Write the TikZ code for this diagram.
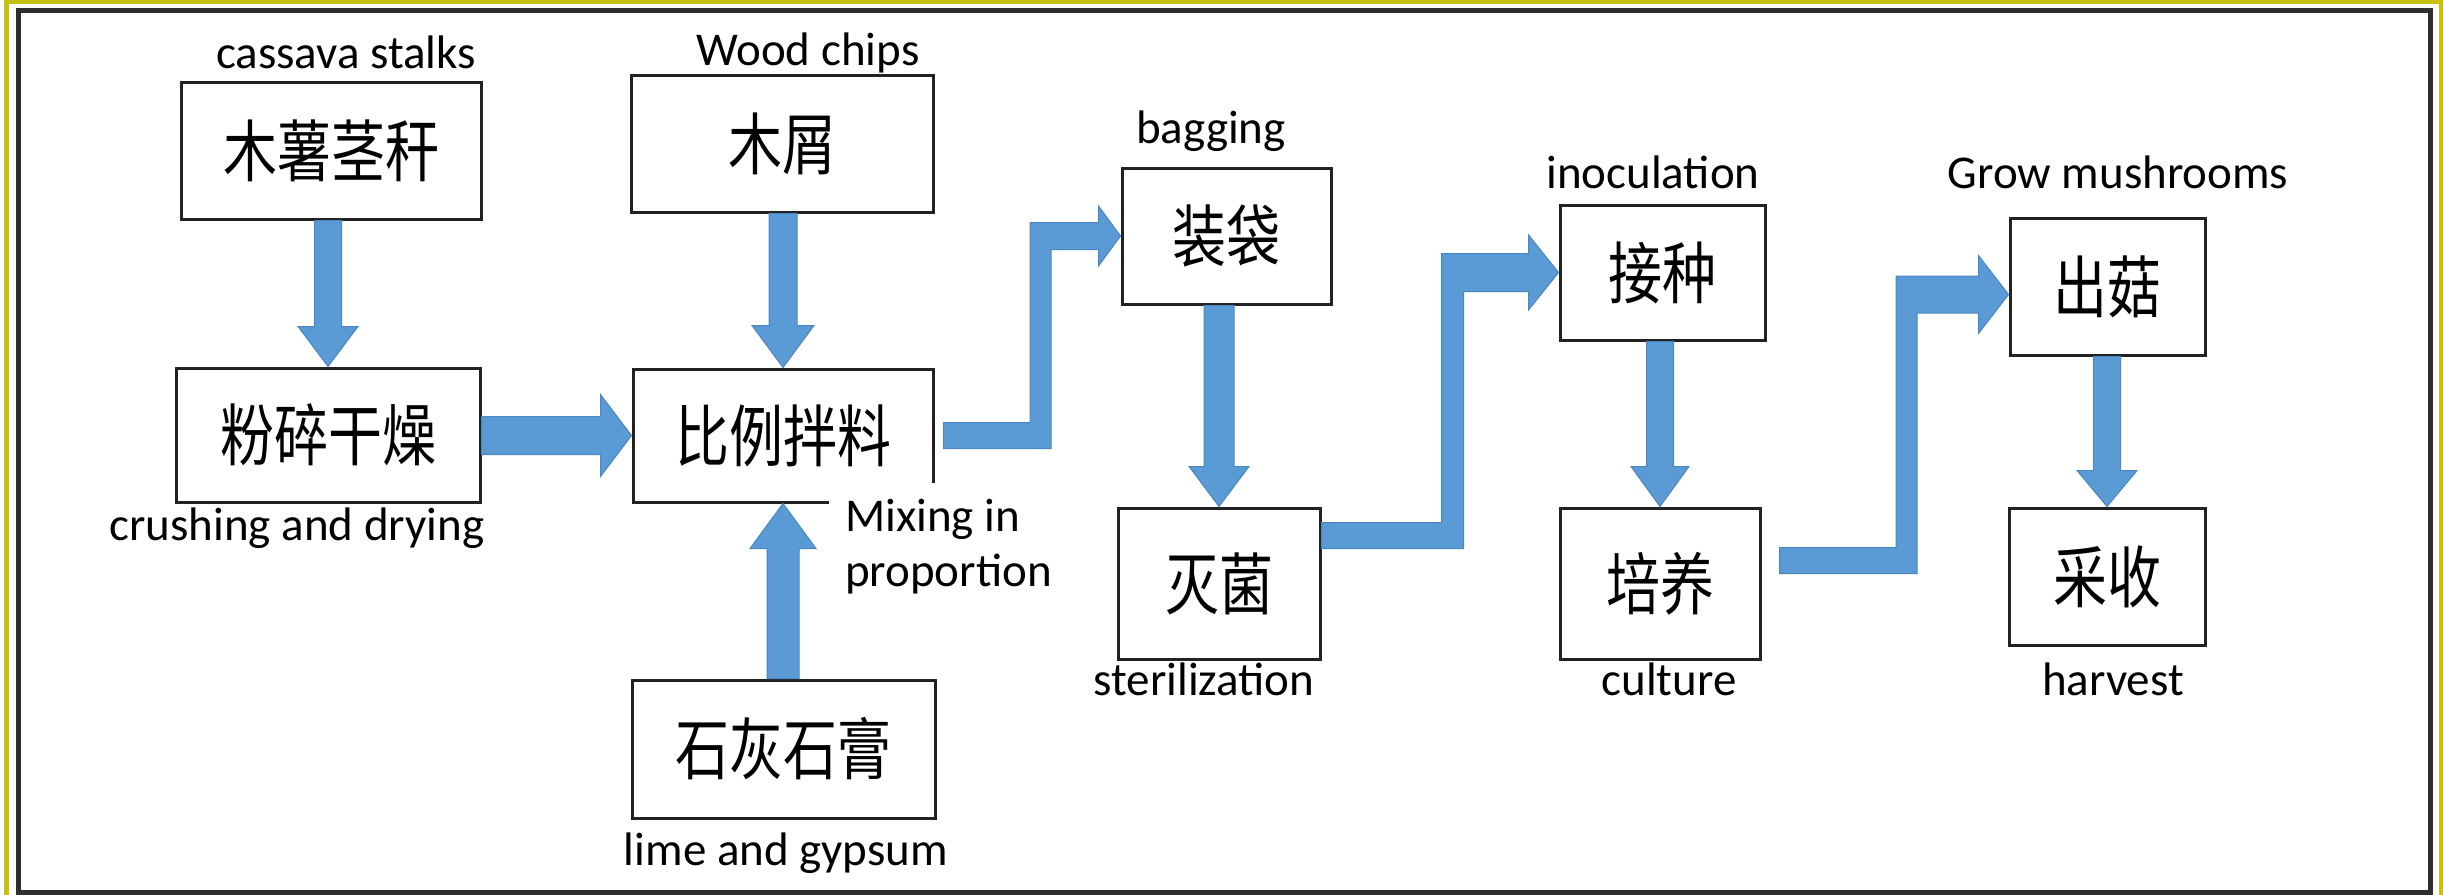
\documentclass[tikz,border=0pt]{standalone}
\usepackage{fontspec}
\usepackage{graphicx}
\setmainfont{Carlito}
\newfontfamily\cjk{Noto Sans CJK SC}
\usetikzlibrary{calc}
\definecolor{arrowblue}{HTML}{5B9BD5}
\definecolor{arrowedge}{HTML}{4A86C0}
\definecolor{boxline}{HTML}{222222}
\definecolor{frameyellow}{HTML}{C8C010}
\definecolor{framedark}{HTML}{2E2E2E}
\tikzset{
  pbox/.style={draw=boxline, line width=3pt, fill=white, inner sep=0pt, font=\cjk\fontsize{54}{54}\selectfont},
  lbl/.style={font=\fontsize{47}{50}\selectfont, inner sep=0pt, anchor=base},
  fatarrow/.style={fill=arrowblue, draw=arrowedge, line width=1pt, line join=miter},
}
\newcommand\zh[1]{\scalebox{1}[1.25]{#1}}
% vertical fat arrow: tail, tip, half shaft, half head, signed head length
\newcommand\fatv[5]{%
  \path[fatarrow] let \p1=(#1), \p2=(#2) in
    (\x2-#3,\y1) -- (\x2-#3,\y2#5) -- (\x2-#4,\y2#5) -- (\x2,\y2) --
    (\x2+#4,\y2#5) -- (\x2+#3,\y2#5) -- (\x2+#3,\y1) -- cycle;}
% horizontal fat arrow pointing right
\newcommand\fath[5]{%
  \path[fatarrow] let \p1=(#1), \p2=(#2) in
    (\x1,\y2+#3) -- (\x2-#5,\y2+#3) -- (\x2-#5,\y2+#4) -- (\x2,\y2) --
    (\x2-#5,\y2-#4) -- (\x2-#5,\y2-#3) -- (\x1,\y2-#3) -- cycle;}
% bent fat arrow: start, middle (x), tip, gap, half bottom, half vertical, half top, half head, head length
\newcommand\bentarrow[9]{%
  \path[fatarrow] let \p1=(#1), \p2=(#2), \p3=(#3) in
    (\x1+#4,\y1+#5) -- (\x2-#6,\y1+#5) -- (\x2-#6,\y3+#7) -- (\x3-#9,\y3+#7) --
    (\x3-#9,\y3+#8) -- (\x3,\y3) -- (\x3-#9,\y3-#8) -- (\x3-#9,\y3-#7) --
    (\x2+#6,\y3-#7) -- (\x2+#6,\y1-#5) -- (\x1+#4,\y1-#5) -- cycle;}
\begin{document}
\begin{tikzpicture}[x=1pt,y=-1pt]
\useasboundingbox (0,0) rectangle (2443,894);
\fill[white] (0,0) rectangle (2443,894);
\draw[frameyellow, line width=5pt] (6.5,1.5) rectangle (2441,920);
\draw[framedark, line width=5pt] (18.5,10) rectangle (2430.5,892);

% boxes
\node[pbox, minimum width=300pt, minimum height=137pt] (b1) at (331,150.5) {\zh{木薯茎秆}};
\node[pbox, minimum width=304pt, minimum height=134pt] (b2) at (328,435) {\zh{粉碎干燥}};
\node[pbox, minimum width=302pt, minimum height=137pt] (b3) at (782,143.5) {\zh{木屑}};
\node[pbox, minimum width=300pt, minimum height=133pt] (b4) at (783,435.5) {\zh{比例拌料}};
\node[pbox, minimum width=303pt, minimum height=138pt] (b5) at (783.5,749) {\zh{石灰石膏}};
\node[pbox, minimum width=209pt, minimum height=136pt] (b6) at (1226.5,236) {\zh{装袋}};
\node[pbox, minimum width=202pt, minimum height=151pt] (b7) at (1219,583.5) {\zh{灭菌}};
\node[pbox, minimum width=205pt, minimum height=135pt] (b8) at (1662.5,272.5) {\zh{接种}};
\node[pbox, minimum width=200pt, minimum height=151pt] (b9) at (1660,583.5) {\zh{培养}};
\node[pbox, minimum width=195pt, minimum height=137pt] (b10) at (2107.5,286.5) {\zh{出菇}};
\node[pbox, minimum width=196pt, minimum height=137pt] (b11) at (2107,576.5) {\zh{采收}};

% helper coordinates for bent connectors
\coordinate (m1) at ($(b6.west)+(-80,0)$);
\coordinate (s2) at ($(b7.east)+(0,-48)$);
\coordinate (m2) at ($(b8.west)+(-106,0)$);
\coordinate (s3) at ($(b9.east)+(0,-23)$);
\coordinate (t3) at ($(b10.west)+(0,8)$);
\coordinate (m3) at ($(b10.west)+(-102,0)$);

% connectors
\fatv{b1.south}{b2.north}{13.5pt}{30pt}{+40pt}
\fatv{b3.south}{b4.north}{14pt}{31pt}{+42pt}
\fatv{b5.north}{b4.south}{16pt}{33pt}{-45pt}
\fath{b2.east}{b4.west}{19pt}{41pt}{31pt}
\fatv{b6.south}{b7.north}{15pt}{30pt}{+40pt}
\fatv{b8.south}{b9.north}{13.5pt}{29pt}{+40pt}
\fatv{b10.south}{b11.north}{13.5pt}{30pt}{+36pt}
\bentarrow{b4.east}{m1}{b6.west}{9pt}{13pt}{10.5pt}{13.5pt}{30pt}{22pt}
\bentarrow{s2}{m2}{b8.west}{0pt}{13pt}{11pt}{19pt}{37.5pt}{30pt}
\bentarrow{s3}{m3}{t3}{18pt}{13pt}{10.5pt}{18.5pt}{39pt}{30pt}

% labels
\node[lbl] (l1) at (346,68) {cassava stalks};
\node[lbl] (l3) at (808,65) {Wood chips};
\node[lbl] (l6) at (1211,143) {bagging};
\node[lbl] (l8) at (1653,188) {inoculation};
\node[lbl] (l10) at (2118,188) {Grow mushrooms};
\node[lbl] (l2) at (297,540) {crushing and drying};
\node[lbl, font=\fontsize{47}{55}\selectfont, anchor=north west, align=left, fill=white, inner sep=16pt] (l4) at (829,483) {Mixing in\\proportion};
\node[lbl] (l7) at (1204,695) {sterilization};
\node[lbl] (l9) at (1669,695) {culture};
\node[lbl] (l11) at (2113,695) {harvest};
\node[lbl] (l5) at (786,865) {lime and gypsum};
\end{tikzpicture}
\end{document}
